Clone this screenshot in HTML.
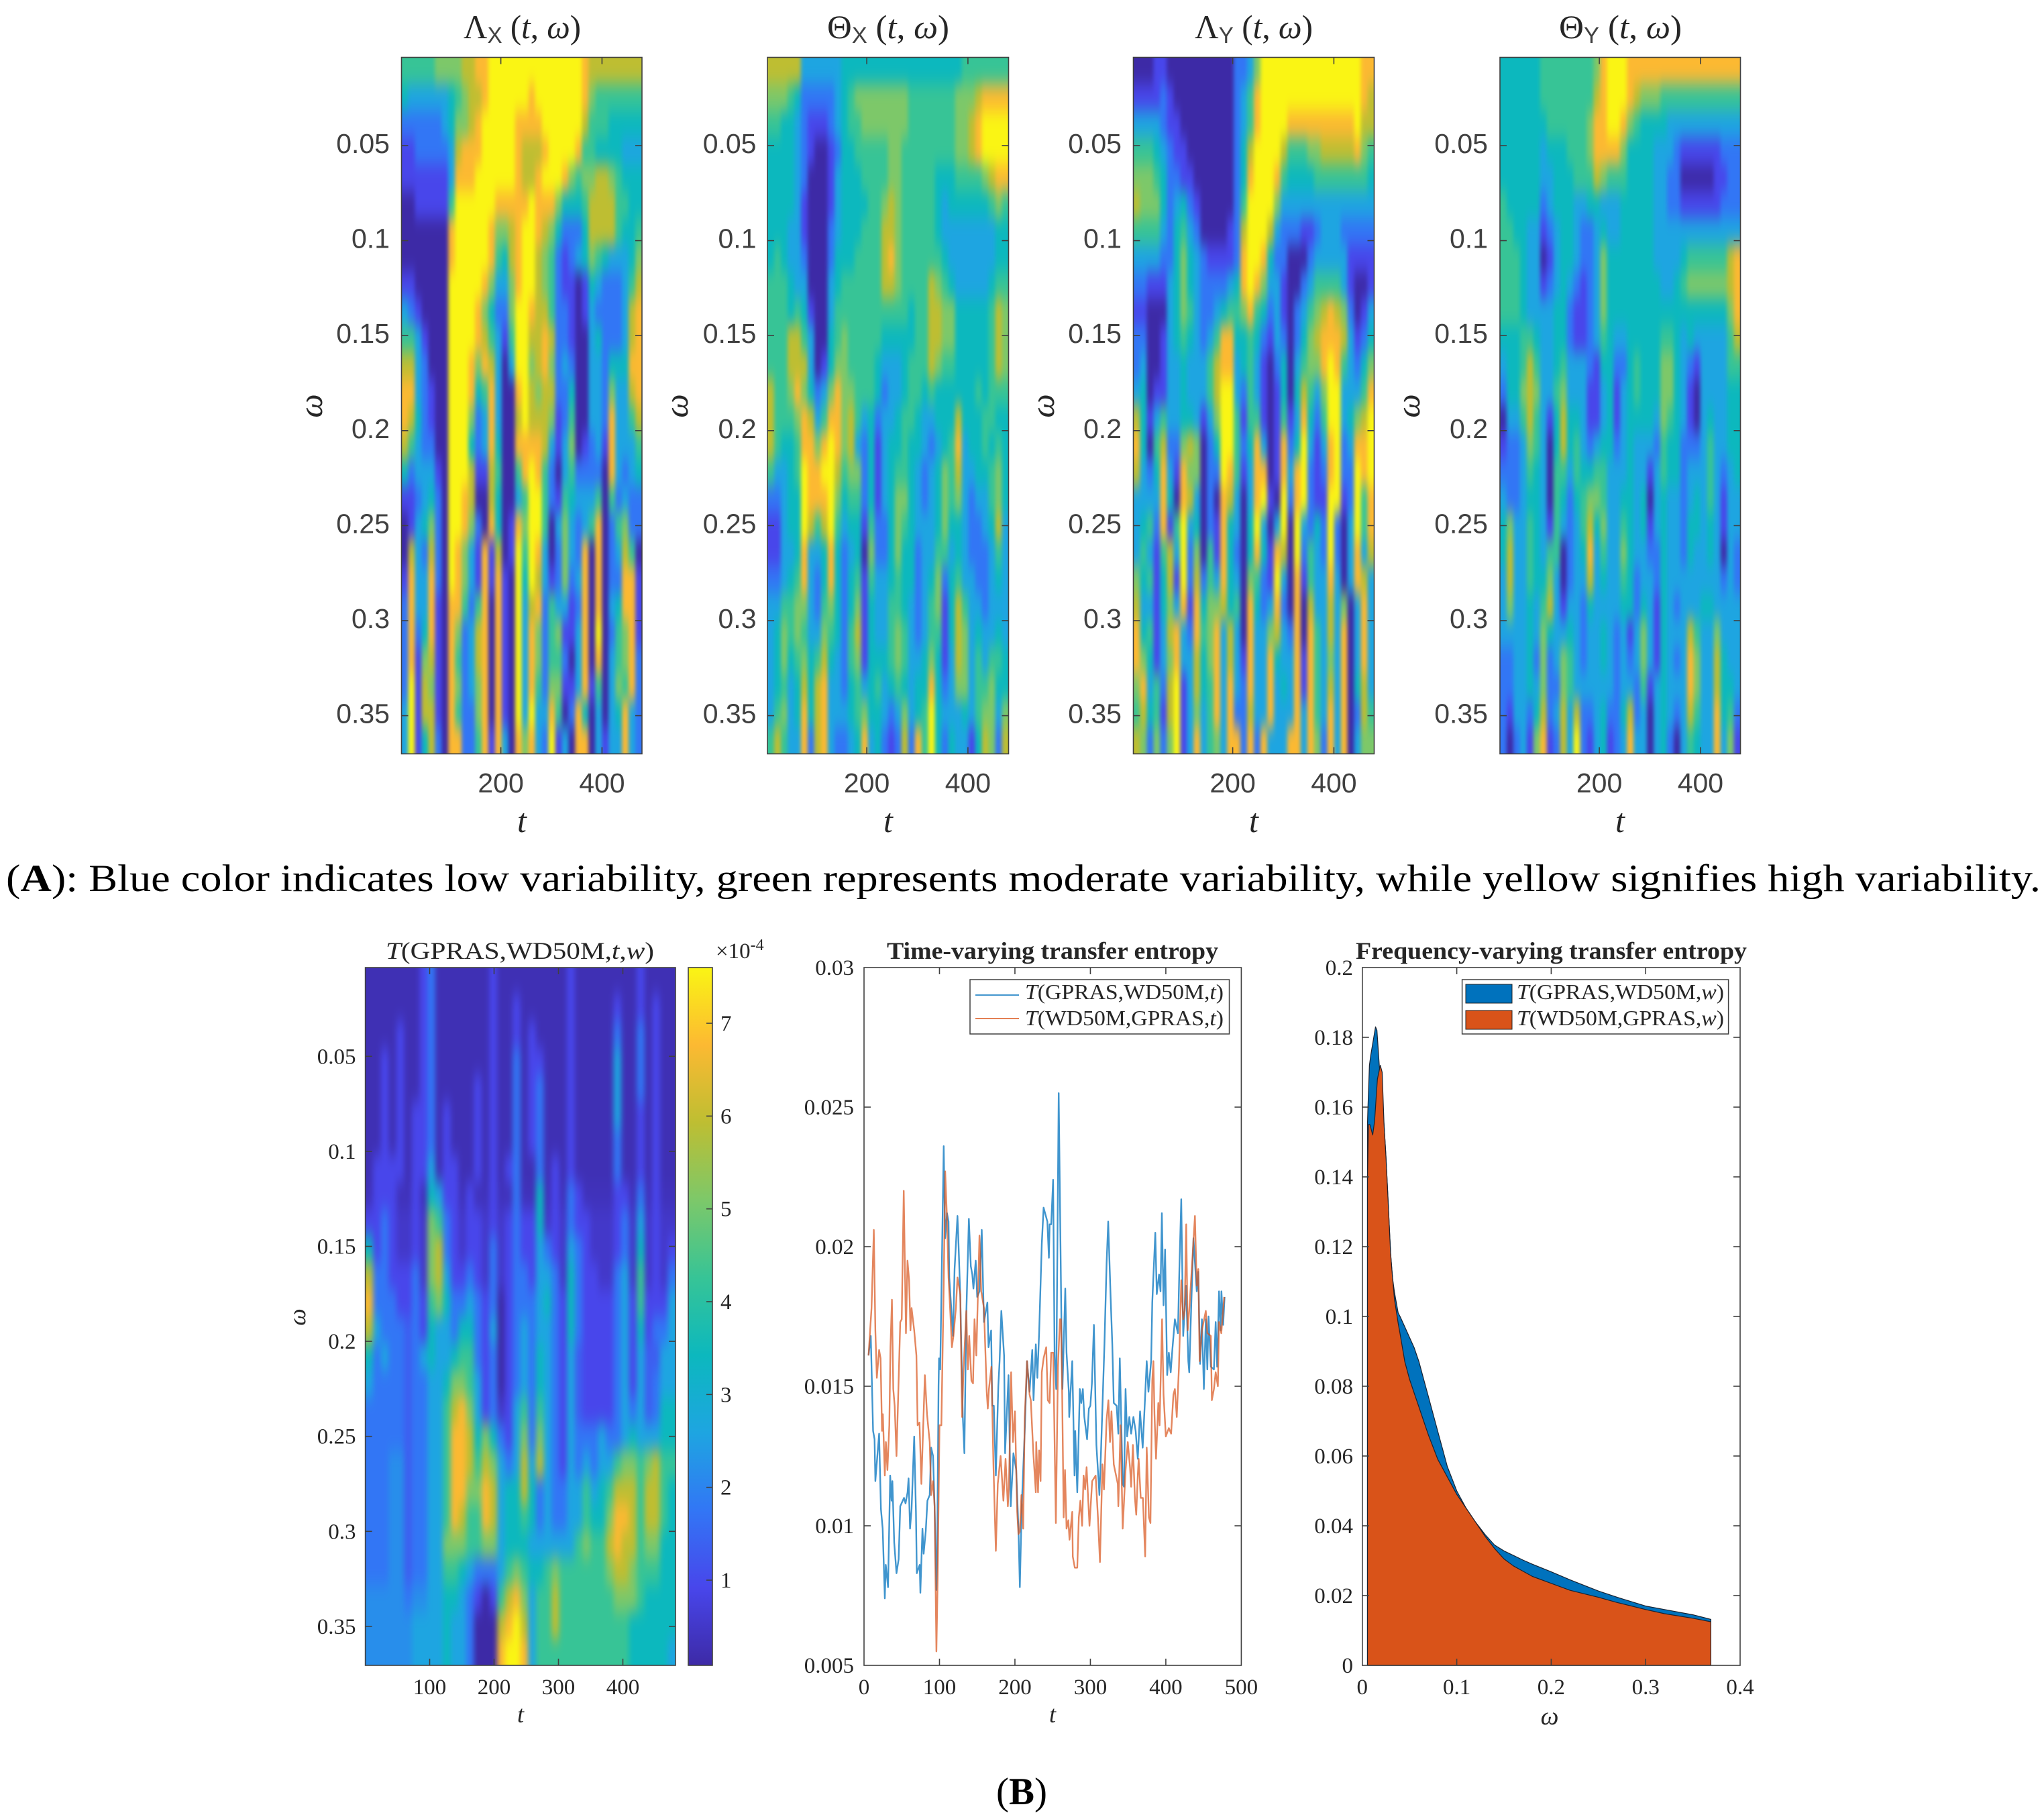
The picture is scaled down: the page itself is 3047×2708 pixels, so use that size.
<!DOCTYPE html>
<html lang="en">
<head>
<meta charset="utf-8">
<title>Transfer entropy time-frequency figure</title>
<style>
html,body{margin:0;padding:0;background:#fff;}
svg{display:block;}
.sans{font-family:"Liberation Sans",sans-serif;fill:#404040;}
.serif{font-family:"Liberation Serif",serif;fill:#262626;}
.cap{font-family:"Liberation Serif",serif;fill:#000;}
</style>
</head>
<body>
<svg id="figure" xmlns="http://www.w3.org/2000/svg" width="3047" height="2708" viewBox="0 0 3047 2708">
<defs>
<filter id="smoothUpper" filterUnits="userSpaceOnUse" x="0" y="0" width="3047" height="2708" color-interpolation-filters="sRGB"><feGaussianBlur stdDeviation="3 13"/></filter>
<filter id="smoothLower" filterUnits="userSpaceOnUse" x="0" y="0" width="3047" height="2708" color-interpolation-filters="sRGB"><feGaussianBlur stdDeviation="4 13"/></filter>
<linearGradient id="parulaBar" x1="0" y1="1" x2="0" y2="0">
<stop offset="0" stop-color="#3d2aa6"/><stop offset="0.111" stop-color="#4846eb"/><stop offset="0.222" stop-color="#3276f5"/><stop offset="0.333" stop-color="#1ea5e1"/><stop offset="0.444" stop-color="#0cb8be"/><stop offset="0.556" stop-color="#37c496"/><stop offset="0.667" stop-color="#7dc869"/><stop offset="0.778" stop-color="#bebe32"/><stop offset="0.889" stop-color="#fcb932"/><stop offset="1" stop-color="#faf514"/>
</linearGradient>
</defs>

<text class="serif" x="691" y="57" font-size="50" textLength="175" lengthAdjust="spacingAndGlyphs">Λ<tspan class="sans" font-size="34" dy="7">X</tspan><tspan dy="-7"> (</tspan><tspan font-style="italic">t</tspan>, <tspan font-style="italic">ω</tspan>)</text>
<text class="serif" x="1233" y="57" font-size="50" textLength="182" lengthAdjust="spacingAndGlyphs">Θ<tspan class="sans" font-size="34" dy="7">X</tspan><tspan dy="-7"> (</tspan><tspan font-style="italic">t</tspan>, <tspan font-style="italic">ω</tspan>)</text>
<text class="serif" x="1781" y="57" font-size="50" textLength="176" lengthAdjust="spacingAndGlyphs">Λ<tspan class="sans" font-size="34" dy="7">Y</tspan><tspan dy="-7"> (</tspan><tspan font-style="italic">t</tspan>, <tspan font-style="italic">ω</tspan>)</text>
<text class="serif" x="2324" y="57" font-size="50" textLength="183" lengthAdjust="spacingAndGlyphs">Θ<tspan class="sans" font-size="34" dy="7">Y</tspan><tspan dy="-7"> (</tspan><tspan font-style="italic">t</tspan>, <tspan font-style="italic">ω</tspan>)</text>

<text class="cap" x="9" y="1328" font-size="57" textLength="3033" lengthAdjust="spacingAndGlyphs">(<tspan font-weight="bold">A</tspan>): Blue color indicates low variability, green represents moderate variability, while yellow signifies high variability.</text>
<text class="cap" x="1485" y="2689" font-size="57">(<tspan font-weight="bold">B</tspan>)</text>

<text class="serif" x="575" y="1429" font-size="36" textLength="400" lengthAdjust="spacingAndGlyphs"><tspan font-style="italic">T</tspan>(GPRAS,WD50M,<tspan font-style="italic">t</tspan>,<tspan font-style="italic">w</tspan>)</text>
<text class="serif" x="1322" y="1429" font-size="36" font-weight="bold" fill="#000" textLength="494" lengthAdjust="spacingAndGlyphs">Time-varying transfer entropy</text>
<text class="serif" x="2021" y="1429" font-size="36" font-weight="bold" fill="#000" textLength="583" lengthAdjust="spacingAndGlyphs">Frequency-varying transfer entropy</text>

<g id="layer"></g>

<g>
<rect x="1446" y="1460" width="386.5" height="81" fill="#fff" stroke="#404040" stroke-width="1.5"/>
<line x1="1454" y1="1483" x2="1519" y2="1483" stroke="#0072bd" stroke-width="1.8" stroke-opacity="0.85"/>
<line x1="1454" y1="1518" x2="1519" y2="1518" stroke="#d95319" stroke-width="1.8" stroke-opacity="0.85"/>
<text class="serif" x="1528" y="1489" font-size="32" textLength="296" lengthAdjust="spacingAndGlyphs"><tspan font-style="italic">T</tspan>(GPRAS,WD50M,<tspan font-style="italic">t</tspan>)</text>
<text class="serif" x="1528" y="1528" font-size="32" textLength="296" lengthAdjust="spacingAndGlyphs"><tspan font-style="italic">T</tspan>(WD50M,GPRAS,<tspan font-style="italic">t</tspan>)</text>
</g>
<g>
<rect x="2179.6" y="1460" width="397" height="81" fill="#fff" stroke="#404040" stroke-width="1.5"/>
<rect x="2185" y="1467" width="69" height="28" fill="#0072bd" stroke="#222" stroke-width="1"/>
<rect x="2185" y="1506" width="69" height="28" fill="#d95319" stroke="#222" stroke-width="1"/>
<text class="serif" x="2261" y="1489" font-size="32" textLength="309" lengthAdjust="spacingAndGlyphs"><tspan font-style="italic">T</tspan>(GPRAS,WD50M,<tspan font-style="italic">w</tspan>)</text>
<text class="serif" x="2261" y="1528" font-size="32" textLength="309" lengthAdjust="spacingAndGlyphs"><tspan font-style="italic">T</tspan>(WD50M,GPRAS,<tspan font-style="italic">w</tspan>)</text>
</g>
</svg>

<script>
const omegaTicks = [0.05, 0.1, 0.15, 0.2, 0.25, 0.3, 0.35];
const upperTimeTicks = [200, 400];
const lowerTimeTicks = [100, 200, 300, 400];
const colorbarTicks = [1, 2, 3, 4, 5, 6, 7];
const lineTimeTicks = [0, 100, 200, 300, 400, 500];
const lineValueTicks = [0.005, 0.01, 0.015, 0.02, 0.025, 0.03];
const freqOmegaTicks = [0, 0.1, 0.2, 0.3, 0.4];
const freqValueTicks = [0, 0.02, 0.04, 0.06, 0.08, 0.1, 0.12, 0.14, 0.16, 0.18, 0.2];
const parulaLevels = [[61,42,166],[72,70,235],[50,118,245],[30,165,225],[12,184,190],[55,196,150],[125,200,105],[190,190,50],[252,185,50],[250,245,20]];

const lambdaXRows = [
[5,5,5,5,5,6,6,6,6,7,7,8,8,9,9,9,9,9,9,9,9,9,9,9,9,9,9,8,7,7,7,7,7,7,7,7],
[4,3,3,3,3,3,3,4,5,6,7,7,8,9,9,9,9,9,9,8,9,9,9,9,9,9,9,8,6,5,5,5,5,5,5,5],
[2,2,2,2,2,2,3,4,6,6,7,8,9,9,9,9,9,8,8,8,8,9,9,9,9,9,9,7,5,5,5,4,4,4,4,4],
[1,1,2,2,2,2,2,3,7,8,8,8,9,9,9,9,9,8,7,7,7,8,9,9,9,9,8,5,5,4,4,4,4,3,3,3],
[1,1,1,1,1,1,1,3,8,8,8,9,9,9,9,9,9,8,7,7,8,9,9,9,8,6,5,6,6,7,7,6,5,4,4,4],
[0,0,1,1,1,1,1,5,9,9,9,9,9,9,8,8,8,8,8,9,8,8,8,6,4,4,4,5,7,7,7,7,5,5,4,4],
[0,0,0,0,0,0,0,8,9,9,9,9,9,8,6,6,7,8,9,9,8,7,6,4,2,2,2,4,7,7,7,7,5,4,4,5],
[0,0,0,0,0,0,0,8,9,9,9,9,9,8,5,4,7,8,9,9,7,6,5,2,1,2,3,4,6,5,4,3,3,3,4,6],
[1,1,0,0,0,0,0,9,9,9,9,9,8,6,3,3,6,8,9,9,7,6,5,2,1,1,0,1,4,3,2,2,2,3,5,7],
[3,2,1,0,0,0,0,9,9,9,9,8,6,4,2,2,6,9,9,8,7,7,5,2,2,1,0,1,3,2,2,2,2,3,7,8],
[5,5,3,1,0,0,0,9,9,9,9,8,7,5,3,1,5,9,9,7,7,8,7,2,2,1,0,0,3,4,2,2,2,3,7,8],
[7,7,3,2,0,0,0,9,9,9,8,6,8,7,3,0,3,9,9,6,7,8,6,2,3,2,0,0,3,3,2,4,4,4,8,8],
[8,8,3,2,1,0,0,9,9,9,8,4,5,8,3,0,0,8,9,7,6,7,7,2,2,4,0,0,3,3,2,6,3,3,7,8],
[8,7,4,2,1,0,0,9,9,9,6,2,3,8,3,0,0,7,9,7,7,7,6,1,2,5,0,0,3,3,2,8,3,3,5,7],
[7,5,3,2,2,0,0,9,9,9,4,2,3,8,4,0,0,8,8,8,8,7,3,1,3,6,0,1,2,3,1,8,3,3,3,5],
[4,2,3,3,3,1,0,9,9,9,7,1,1,7,5,0,0,5,8,9,8,5,2,0,3,5,2,2,2,2,0,8,3,2,3,4],
[1,1,2,3,4,2,0,9,9,8,7,0,0,7,4,0,0,3,5,9,9,5,2,1,5,4,3,3,3,5,0,5,2,3,2,2],
[0,1,3,4,6,2,0,9,9,8,6,2,0,8,4,0,1,8,6,9,9,5,0,3,6,3,2,3,5,8,0,2,5,6,2,2],
[0,7,3,2,7,2,0,9,8,6,3,1,8,1,7,0,1,9,5,9,8,3,0,2,6,3,2,8,0,8,0,2,3,7,5,0],
[1,8,3,3,8,2,0,9,8,6,3,1,8,1,8,1,0,9,4,9,7,3,1,2,6,2,3,8,0,8,0,2,2,8,8,1],
[2,8,3,3,8,1,0,8,8,5,2,5,8,0,8,1,0,9,3,7,8,2,5,3,3,1,2,8,0,8,0,3,4,8,8,1],
[2,8,2,4,8,1,0,8,6,2,3,7,8,0,8,1,0,9,3,8,6,2,5,6,1,1,3,8,0,9,0,2,5,6,8,1],
[2,8,1,6,7,1,0,8,5,2,3,7,8,0,8,1,0,9,3,8,6,2,5,5,2,0,3,8,0,8,0,3,5,6,8,2],
[2,9,1,7,6,1,0,8,6,2,3,6,8,0,8,1,0,9,3,8,5,2,6,6,1,1,3,8,1,5,0,3,6,5,8,2],
[3,9,1,7,7,1,0,8,5,2,2,6,8,0,8,1,0,9,3,9,3,3,8,5,0,2,8,4,0,3,0,3,4,8,3,2],
[3,9,1,4,7,2,0,8,8,2,2,5,8,1,8,3,0,8,6,8,3,2,9,1,3,0,8,8,0,3,1,3,3,8,3,2]
];
const thetaXRows = [
[7,7,7,7,7,3,3,3,3,3,3,4,4,4,4,4,4,4,4,4,4,4,4,4,4,4,4,4,4,5,5,5,5,5,5,5],
[6,6,6,5,4,2,2,2,2,2,3,4,5,6,6,6,6,6,6,6,6,5,5,5,5,5,5,5,6,6,6,7,8,8,8,8],
[5,5,4,4,3,2,1,1,1,2,3,4,5,5,6,6,6,6,6,6,6,5,5,5,5,5,5,5,6,6,7,8,9,9,9,9],
[4,4,4,4,3,2,1,0,0,1,2,4,4,5,5,5,5,5,6,6,5,5,5,5,5,5,5,5,6,6,7,8,9,9,9,9],
[4,4,4,4,3,2,0,0,0,1,3,4,4,4,5,5,5,5,6,6,5,5,5,5,5,4,4,4,5,5,5,5,6,7,8,8],
[4,4,4,4,3,1,0,0,0,1,3,4,4,4,4,5,5,6,7,6,5,5,5,5,5,4,3,4,4,4,4,4,4,5,6,5],
[4,4,4,3,3,1,0,0,0,2,3,4,4,4,5,5,5,7,7,6,5,5,5,5,5,4,3,3,3,3,3,3,3,3,4,4],
[4,5,4,3,3,2,0,0,0,2,4,4,4,5,5,5,5,7,8,6,5,5,5,5,5,5,4,3,3,3,3,3,3,3,4,4],
[5,5,5,4,3,3,0,0,0,3,4,5,5,5,5,5,5,7,7,6,5,5,5,5,7,6,5,4,3,3,3,3,3,4,5,5],
[5,5,5,4,5,4,1,0,0,3,5,5,5,5,5,5,5,5,5,5,5,4,5,5,7,7,6,6,4,4,4,4,4,5,7,6],
[5,5,5,7,7,5,3,0,0,4,5,6,5,5,5,5,5,4,4,4,4,4,5,5,7,7,6,6,4,4,4,4,4,5,7,6],
[5,5,5,7,7,7,3,0,1,4,6,6,5,5,5,5,4,3,3,3,4,5,5,5,7,6,5,5,4,4,4,4,4,5,7,6],
[7,5,5,6,8,6,4,2,3,6,8,6,6,5,5,5,4,2,3,3,4,5,5,4,5,4,4,4,4,4,4,5,4,5,5,5],
[7,5,5,5,6,8,7,3,5,8,8,6,7,5,3,4,2,3,3,4,5,5,4,3,3,4,4,4,7,4,4,4,5,5,4,4],
[7,5,4,4,5,8,8,6,8,9,8,6,7,3,2,4,1,3,4,4,5,4,4,3,2,3,4,5,8,3,4,4,5,4,5,4],
[5,3,3,4,5,9,8,8,9,9,7,5,6,6,2,4,1,3,4,5,5,4,3,2,3,4,6,5,7,3,3,4,4,5,6,4],
[2,2,3,4,4,9,8,8,8,9,6,4,5,5,2,4,1,3,4,6,6,4,3,2,3,4,6,5,6,3,2,3,3,5,6,4],
[1,1,3,4,4,9,7,5,7,9,5,3,4,4,1,5,2,2,4,6,5,4,3,3,3,4,6,4,4,3,2,2,3,4,7,3],
[1,1,3,3,4,8,3,3,4,8,4,2,3,4,0,6,2,2,4,6,4,4,2,3,3,5,5,3,4,3,2,2,2,3,5,3],
[2,2,3,4,5,8,3,2,4,8,4,2,4,5,1,5,3,3,4,5,4,4,2,3,4,6,2,4,5,3,3,2,2,3,4,3],
[3,3,5,5,6,6,3,2,5,6,4,2,4,6,1,4,3,3,5,5,4,3,2,3,5,6,1,4,7,5,3,3,2,3,3,3],
[3,4,6,5,6,5,3,3,6,5,4,2,5,7,1,4,3,3,5,6,5,3,2,3,5,5,1,4,7,6,3,4,3,3,4,3],
[3,4,6,4,5,6,4,5,7,4,3,2,5,6,1,4,4,4,5,6,5,3,3,4,6,4,1,3,7,6,3,5,3,5,5,4],
[3,4,5,3,4,7,4,7,8,3,3,2,4,5,3,4,5,3,4,5,4,3,4,4,8,4,2,3,6,6,3,5,5,6,4,4],
[3,5,6,3,4,8,4,7,8,3,3,3,4,5,6,4,4,3,2,3,6,3,4,5,9,4,3,3,3,4,3,5,6,6,3,6],
[5,7,5,3,3,8,2,7,8,3,2,2,3,4,8,3,4,2,1,2,7,2,8,5,9,4,2,4,3,3,1,4,7,6,2,7]
];
const lambdaYRows = [
[0,0,0,1,1,0,0,0,0,0,0,0,0,0,0,2,2,3,6,9,9,9,9,9,9,9,9,9,9,9,9,9,9,9,8,8],
[1,1,1,1,2,1,0,0,0,0,0,0,0,0,0,2,3,5,8,9,9,9,9,9,9,9,9,9,9,9,9,9,9,9,8,7],
[3,3,3,3,2,1,1,0,0,0,0,0,0,0,0,2,3,5,8,9,9,9,9,8,8,8,8,8,8,8,8,8,8,9,7,7],
[5,5,5,4,3,2,1,1,0,0,0,0,0,0,0,2,4,7,9,9,9,9,7,5,5,5,6,6,7,7,7,7,7,8,6,5],
[6,6,6,5,4,2,2,1,1,0,0,0,0,0,0,2,4,8,9,9,9,8,5,4,4,4,4,5,5,5,5,5,5,5,5,4],
[7,6,6,6,4,2,3,4,2,1,0,0,0,0,0,2,5,9,9,9,9,6,3,3,3,3,3,3,3,3,3,3,3,3,3,3],
[5,5,5,5,3,2,4,5,3,2,0,0,0,0,1,2,7,9,9,9,7,3,2,2,2,1,1,2,3,3,3,2,2,2,2,2],
[3,3,3,3,2,2,4,6,4,3,2,1,1,1,1,2,8,9,9,8,4,2,2,0,0,0,2,3,3,3,3,3,1,1,1,1],
[2,2,1,1,1,3,4,6,4,3,2,2,2,2,3,4,8,9,8,6,3,3,1,0,0,2,3,5,5,5,5,3,1,0,0,1],
[1,1,0,0,0,3,4,6,5,3,2,2,3,4,5,5,6,8,5,4,2,3,1,0,2,3,5,6,7,8,7,6,2,0,1,3],
[2,2,0,0,1,3,4,5,4,3,2,3,5,8,8,4,4,5,4,2,1,3,2,0,2,4,6,7,8,8,8,7,3,1,2,4],
[2,3,0,0,1,3,3,4,3,3,3,5,7,8,8,3,4,5,3,1,0,2,4,0,3,5,6,6,8,9,8,5,3,2,4,6],
[3,4,0,1,1,3,3,4,3,3,3,5,7,9,9,3,2,5,3,1,0,1,4,0,4,7,5,3,6,9,9,3,3,3,5,8],
[7,4,1,3,5,3,3,4,4,3,1,3,6,9,9,5,1,5,5,1,0,1,5,1,3,8,4,2,5,9,9,3,4,6,7,9],
[8,4,0,5,7,2,2,6,7,6,0,2,4,9,9,5,2,4,8,3,0,1,8,2,4,9,3,1,3,8,9,2,3,8,8,9],
[7,3,2,4,8,3,1,8,6,6,0,2,2,9,8,5,1,3,8,8,0,1,8,3,8,9,2,1,2,8,9,2,2,9,8,9],
[3,3,3,3,8,4,0,8,7,3,0,2,0,8,7,3,0,3,8,9,1,0,9,2,8,9,2,1,1,9,9,1,2,9,5,8],
[3,4,5,2,8,1,5,9,3,4,0,2,1,8,4,3,0,4,9,3,0,3,9,0,9,3,2,4,2,9,2,0,3,9,5,8],
[3,5,3,1,5,7,3,9,2,6,0,5,1,8,4,2,0,4,8,4,1,8,7,0,9,2,5,3,2,9,2,0,3,8,3,7],
[6,4,5,1,4,7,1,9,2,7,2,5,3,8,4,3,0,6,5,2,1,9,3,0,8,1,5,3,3,8,3,0,3,8,7,3],
[7,3,3,1,4,6,3,8,1,8,4,6,6,7,4,5,0,8,4,2,3,8,2,0,8,0,7,3,3,7,3,6,0,3,8,3],
[8,4,5,1,3,7,8,3,2,8,5,6,8,3,7,3,0,8,3,3,6,7,3,2,8,0,8,5,3,7,3,8,0,3,8,3],
[8,6,4,1,3,6,8,3,3,7,4,6,8,3,7,3,1,8,3,3,8,4,3,3,8,1,8,5,3,6,3,8,0,3,8,3],
[6,8,3,5,2,7,9,1,3,7,4,5,8,3,8,3,2,8,3,3,8,3,4,3,8,1,8,5,3,7,3,8,0,4,7,3],
[5,7,4,5,1,7,9,1,3,6,3,5,8,3,8,2,2,7,3,3,8,3,3,3,8,3,8,5,3,8,3,8,0,2,7,5],
[7,6,2,6,2,6,9,1,3,8,3,5,6,3,8,8,2,8,2,8,3,3,3,8,8,3,8,6,2,8,3,8,0,3,6,6]
];
const thetaYRows = [
[4,4,4,4,4,4,5,5,5,5,5,5,5,5,6,8,9,9,9,8,8,8,8,8,8,8,8,8,8,8,8,8,8,8,8,8],
[4,4,4,4,4,4,5,5,5,5,5,5,5,5,7,8,9,9,9,8,7,6,6,6,5,5,5,5,5,5,5,5,5,5,5,5],
[4,4,4,4,4,4,4,5,5,5,5,5,5,6,8,8,9,9,8,6,5,4,4,4,4,3,3,3,3,3,3,3,3,3,3,3],
[4,4,4,4,4,4,3,4,4,4,5,5,5,6,8,8,8,8,6,4,4,4,4,3,3,3,2,1,1,1,1,1,1,2,2,2],
[4,4,4,4,4,4,3,3,4,4,4,5,5,5,7,6,5,5,5,4,4,4,4,3,3,2,2,0,0,0,0,0,1,1,2,2],
[5,4,4,4,4,4,2,3,4,4,4,3,3,4,4,3,3,3,4,4,4,4,4,3,3,2,2,1,1,1,1,1,1,2,2,2],
[5,5,4,4,3,3,1,2,3,4,4,3,2,2,3,4,3,3,4,4,4,4,4,3,3,3,3,3,3,3,3,3,3,3,3,3],
[5,5,5,4,3,3,0,1,3,4,4,3,2,2,3,6,4,4,4,4,4,4,4,3,3,3,3,4,5,5,5,5,5,5,7,8],
[5,5,5,4,3,3,1,2,3,4,3,2,1,2,3,6,4,4,4,4,4,4,4,4,3,3,4,5,6,6,6,6,6,6,7,8],
[5,5,5,4,3,3,3,3,4,4,2,1,1,2,3,6,4,4,4,4,4,4,4,4,4,4,4,4,4,4,4,4,4,4,6,8],
[4,4,4,5,5,4,3,3,4,4,2,1,1,2,3,5,4,3,3,4,4,4,4,4,5,5,4,3,4,3,3,3,3,3,5,7],
[3,4,4,5,7,5,3,3,4,5,3,3,3,2,1,4,4,2,2,4,5,4,4,4,6,6,4,3,2,1,3,3,3,3,5,5],
[2,4,4,6,7,6,3,3,5,6,3,3,3,1,1,3,4,1,3,4,5,4,4,4,6,6,4,3,1,0,3,3,3,3,4,4],
[0,3,3,5,7,5,3,1,4,7,4,4,3,1,1,3,4,1,3,4,4,4,4,3,6,5,4,3,1,0,3,4,3,3,4,4],
[1,2,2,3,6,5,3,0,4,7,4,5,3,2,3,4,4,2,3,4,3,3,3,2,5,4,4,2,2,2,3,5,3,3,4,4],
[2,2,2,3,5,4,3,0,5,5,3,5,4,4,5,5,3,3,3,4,3,3,1,3,5,4,4,2,3,3,3,5,3,2,3,4],
[3,2,2,3,4,4,3,0,5,4,2,4,5,6,6,5,3,3,4,4,3,4,0,3,4,3,3,2,3,4,3,5,3,1,3,3],
[4,6,3,3,5,4,3,1,5,3,2,3,5,7,4,6,3,3,5,4,3,4,1,3,4,3,3,2,4,4,3,4,3,1,3,3],
[4,7,3,3,5,4,3,5,5,0,2,3,4,8,3,5,3,3,6,4,3,3,2,2,4,3,3,2,4,3,3,4,3,0,3,2],
[3,7,3,3,5,4,4,6,3,0,2,3,3,7,3,4,3,3,5,4,2,3,3,2,4,3,3,3,3,3,3,3,3,2,3,2],
[3,6,3,3,4,3,5,7,3,1,3,3,2,4,3,3,3,3,4,4,2,4,3,1,4,3,2,3,3,3,4,4,3,3,3,3],
[3,3,3,3,4,3,6,4,3,3,4,3,2,3,3,4,3,2,3,1,3,6,3,1,4,3,3,3,7,5,3,3,6,3,3,3],
[2,2,3,3,4,2,6,2,3,6,5,3,2,3,3,4,3,2,3,2,3,6,3,1,4,3,2,3,8,6,3,3,7,4,3,3],
[2,2,3,3,4,3,6,2,2,6,5,3,3,3,3,3,3,2,3,3,2,5,1,3,4,3,3,3,8,6,3,3,7,4,4,3],
[2,1,3,3,2,4,7,2,3,7,3,7,2,2,3,4,2,2,4,7,2,3,0,3,4,3,2,3,7,5,3,3,8,4,5,2],
[2,0,2,3,1,6,8,1,2,7,3,9,2,1,3,4,1,2,3,8,3,3,0,3,4,2,0,3,5,4,3,3,8,3,6,1]
];
const transferRows = [
[0.2,0.2,0.2,0.2,0.2,0.2,0.2,1,2,0.2,0.2,0.2,0.2,0.2,0.2,0.2,1,0.2,0.2,0.2,0.2,0.2,0.2,0.2,0.2,0.2,1,0.2,0.2,0.2,0.2,0.2,0.2,0.2,0.2,1,0.2,0.2,0.2,0.2],
[0.2,0.2,0.2,0.2,0.2,0.2,0.2,1,2,0.2,0.2,0.2,0.2,0.2,0.2,0.2,1,0.2,0.2,1,0.2,0.2,0.2,0.2,0.2,0.2,1,0.2,0.2,0.2,0.2,0.2,1,0.2,0.2,1,0.2,1,0.2,0.2],
[0.2,0.2,0.2,0.2,1,0.2,0.2,1,2,0.2,0.2,0.2,0.2,0.2,0.2,0.2,1,0.2,0.2,1,0.2,1,0.2,0.2,0.2,0.2,1,0.2,0.2,0.2,0.2,0.2,2,0.2,0.2,2,0.2,1,0.2,0.2],
[0.2,0.2,1,0.2,1,0.2,0.2,1,2,0.2,0.2,0.2,0.2,0.2,0.2,0.2,1,0.2,0.2,2,0.2,1,1,0.2,0.2,0.2,1,0.2,0.2,0.2,0.2,0.2,3,0.2,0.2,2,0.2,1,0.2,0.2],
[0.2,0.2,1,0.2,1,0.2,0.2,1,2,0.2,0.2,0.2,0.2,0.2,1,0.2,1,0.2,0.2,2,0.2,1,2,0.2,0.2,0.2,1,0.2,0.2,0.2,0.2,0.2,3,0.2,0.2,2,0.2,1,0.2,0.2],
[0.2,0.2,1,0.2,1,0.2,1,1,2,0.2,1,0.2,0.2,0.2,1,0.2,1,0.2,0.2,2,0.2,1,2,0.2,0.2,0.2,1,0.2,0.2,0.2,0.2,0.2,3,0.2,0.2,1,0.2,1,0.2,0.2],
[0.2,0.2,1,0.2,1,0.2,1,1,2,0.2,1,0.2,0.2,0.2,1,0.2,1,0.2,0.2,2,0.2,1,2,0.2,0.2,0.2,1,0.2,0.2,0.2,0.2,0.2,2,0.2,0.2,1,0.2,1,0.2,0.2],
[0.2,1,1,1,1,0.2,1,1,3,0.2,1,1,0.2,0.2,1,0.2,1,0.2,1,2,0.2,0.2,2,0.2,1,0.2,1,0.2,0.2,0.2,0.2,0.2,2,0.2,0.2,1,0.2,1,0.2,0.2],
[0.3,1,1,1,0.3,0.3,1,0.3,4,3,1,1,0.3,1,0.3,0.3,1,0.3,0.3,2,0.3,0.3,4,0.3,1,0.3,2,1,0.3,0.3,0.3,0.3,1,1,0.3,2,0.3,1,0.3,0.3],
[1,1,2,1,0.5,0.5,1,0.5,6,5,2,1,0.5,1,1,0.5,1,0.5,1,2,1,1,4,0.5,1,0.5,2,1,1,0.5,0.5,0.5,1,2,0.5,3,0.5,1,0.5,0.5],
[4,1,2,1,0.5,0.5,1,0.5,6,7,2,1,0.5,1,1,0.5,2,0.5,1,2,1,1,3,2,1,0.5,3,2,1,0.5,0.5,0.5,1,2,0.5,4,0.5,1,0.5,1],
[7,2,2,1,1,1,2,0.5,6,7,3,1,1,2,1,0.5,2,0.5,1,2,2,1,3,3,2,0.5,4,2,1,1,0.5,0.5,2,3,0.5,5,0.5,1,0.5,2],
[8,2,2,2,1,1,2,1,5,6,4,2,2,3,2,1,2,0,1,2,2,2,3,4,2,1,4,2,1,1,1,1,2,3,1,5,1,1,1,3],
[7,3,2,2,2,1.5,2,1,4,3,3,2,4,4,2,1,3,0,1,2,3,2,3,3,2,1,4,2,1,1,1,1,2,3,1,4,1,2,2,3],
[4,2,3,2,2,1.5,2,3,4,3,3,4,5,5,2,1,2,0,1,2,3,2,4,3,2,1,3,1.5,1,1,1,1,2,3,1,3,1.5,1.5,3,3],
[3,2,2,2,2,1.5,2,2,3,3,4,6,6,5,3,1,2,0,1,2,3,2,4,3,2,1,3,1.5,1,1,1,1,2,3,1,3,1.5,2,3,3],
[2,2,2,2,2,1.5,2,2,3,3,5,7,8,6,3,1,2,0.5,1,3,5,2,5,3,2,1,3,1.5,1,1,1,1,2,3,2,3,1.5,2,4,4],
[2,2,2,2,2,1.5,2,2,3,3,5,8,8,7,4,6,4,2,1,3,6,2,6,3,2,1,3,2,2,2,3,2,2,3,4,3,3,3,4,4],
[2,2,2,2.5,2.5,1.5,2,2,3,3,5,8,8,7,5,7,6,3,2,3,7,3,7,3,2,1,3,2,3,2,3,3,5,6,6,5,6,7,5,5],
[2,2,2,2.5,2.5,1.5,2,2,3,3,5,8,8,6,6,8,7,3,4,4,7,4,2,3,2,2,3,3,5,3,4,5,7,7,7,5,7,7,5,4],
[2,2,2,2.5,2.5,1.5,2,2,3,3,5,8,7,5,5,8,7,3,4,4,5,4,2,3,2,2,3,3,5,4,4,6,8,8,7,5,7,7,5,4],
[2,2,2,2.5,2.5,1.5,2,2,3,3,6,6,6,5,5,6,6,3,4,4,4,3,3,3,3,3,3,5,6,5,5,7,8,7,7,5,6,6,4,4],
[2,2,2,2.5,2.5,1.5,2,2,3,3,5,5,4,3,2,2,2,3,5,6,5,4,4,5,6,5,5,5,5,5,5,6,7,7,6,5,5,5,4,4],
[2.5,2.5,2.5,2.5,2.5,2,2.5,2.5,3,3,4,4,3,2,1,0,1,5,7,8,6,3,5,5,7,5,5,5,5,5,5,5,6,6,6,5,4,4,4,4],
[2.5,2.5,2.5,2.5,2.5,2.5,3,3,3,3,4,3,3,2,0,0,0,7,8,9,7,3,5,5,7,5,5,5,5,5,5,5,5,5,4,4,4,4,4,4],
[2.5,2.5,2.5,2.5,2.5,2.5,3,3,3,3,4,3,3,2,0,0,0,8,9,9,8,3,5,5,5,5,5,5,5,5,5,5,5,5,4,4,4,4,4,3]
];

const gprasToWindByTime = [[6,16.1],[9,16.8],[12,13.4],[14,13.1],[15,11.6],[20,13.3],[22.4,10.6],[24.7,9.9],[27.6,7.4],[28.8,8.6],[31.8,7.8],[34.7,11.8],[36.5,10.9],[37.6,11.6],[40,9.4],[43,8.3],[45.9,8.8],[48,10.7],[53,11],[55,10.8],[57.7,11.2],[59,11.7],[61,9.9],[63,10.6],[66.5,13.2],[68.8,10.5],[70,8.3],[73.8,8.6],[74.7,7.6],[77.4,9.9],[79,9],[81.8,9.8],[84,10.9],[87,11.1],[89,12.8],[91.5,12.5],[93.5,10.7],[95.9,7.7],[96.8,8.7],[98.8,15],[99.4,16],[101,15.6],[105.6,23.6],[107.6,20.3],[110,21.2],[112,20.9],[113,18.9],[118,16.8],[120,19.2],[123.8,21.1],[125,20.3],[127.6,18.2],[131,13.9],[133,12.6],[135.6,17.6],[139,21],[141.5,19.3],[143.5,19],[145,18.5],[148,19.5],[150,18.2],[153,18.4],[156,20.6],[159,17.3],[163.5,18],[165,16.4],[168.5,17],[170,14.3],[172,14.3],[174.7,11.8],[178,15],[179.7,15.9],[182,17.7],[185.6,16.1],[187,12.6],[191.5,15.4],[194.4,10.7],[198,12.6],[201.7,12],[204.7,9.9],[206.5,7.8],[209,10.7],[213,13.4],[216,15.9],[219.4,14.8],[223,16.3],[224.7,14.5],[227.7,16.5],[229.7,15.3],[232,16.9],[235.6,20.1],[238,21.4],[243,20.9],[245,19.6],[246,20.8],[248,20.8],[250.6,22.4],[252.6,16.1],[254.7,14.9],[258,25.5],[261.6,17.4],[263,14.9],[266.7,18.5],[268.4,16.2],[271.4,14.8],[272,13.9],[276,15.9],[279,11.8],[280,13.4],[282.6,11.2],[286,14.9],[288,14.4],[290,14.9],[292,13.9],[295.6,13.1],[298,14.2],[300,14.3],[302,15.1],[304.7,17.2],[308,12.9],[312,11.1],[314,12.6],[318.6,16.5],[321.5,19.4],[323.6,20.9],[326.8,18.2],[329,16.5],[331,14.4],[334.8,14.3],[337,13.3],[339,16],[342.8,11.5],[344.5,11.4],[346.6,14.9],[348.7,13.2],[351.6,13.9],[354,13.3],[357,13.9],[360,13.4],[362.8,12.4],[365.8,14.1],[369.3,12.8],[372,14.3],[374.6,15.9],[377,14.8],[380.5,15.9],[382,18],[386,20.5],[388,18.3],[391,19],[393,18.4],[394.7,21.2],[397,17.9],[399,19.9],[401.8,15.4],[404,16.2],[406.5,15.5],[408.6,16.3],[412,17.4],[416,16.9],[418,19.3],[420.4,21.7],[423,16.8],[426.8,18.6],[429.8,15.9],[431,15.5],[433.6,17.8],[436.6,20.3],[441,18.4],[443,19.1],[445.4,15.8],[447.8,17.4],[450.4,14.9],[453,17.4],[455,15.6],[456.6,17.5],[459.6,15.7],[463.7,15.6],[466,17.3],[468,15.7],[470.5,18.4],[472.6,17],[473.7,18.4],[476,17.2],[477.9,18.2]];

const windToGprasByTime = [[6,16.1],[10,17.8],[13,20.6],[15,17],[17,15.3],[20,16.3],[22,16],[23.8,13.4],[25,14],[27.6,11.8],[29,13],[31,12],[33.5,13.6],[35,16.4],[37,18.1],[38.8,14.9],[40.6,14.3],[43,12.5],[46,15.3],[48,17.3],[50,17.4],[52.6,22],[55.6,16.9],[57.6,19.5],[59.7,18.8],[61.5,17],[63,17.8],[66.5,17],[69.4,16.1],[71,13.6],[73.5,13.7],[76,11.5],[78.2,13.4],[80.6,15.4],[83.5,14],[87,13],[89,11.1],[91.5,11.6],[93.5,10.7],[95.9,5.5],[97.6,8.1],[100,13.6],[102.5,13.6],[105.6,18.6],[107.6,22.7],[110,21],[112,18.9],[114.4,17.6],[116.5,16.4],[118.5,16.8],[121.8,17.8],[123.8,18.9],[127.6,18.3],[130,13.9],[131.8,15.5],[135.6,17.7],[137.6,15.6],[139.4,16.8],[142.3,15.2],[144.5,15.1],[146.4,17.4],[148.8,16.1],[153,20.4],[155.3,18.4],[159,17.8],[162.6,14.8],[164,14.2],[165.5,14.9],[168.8,15.7],[171.5,12.2],[174.7,9.1],[177.3,11.5],[181,12.5],[184.7,10.9],[187.6,12.4],[190.6,10.7],[192,11.4],[195,15.5],[197.4,13],[200,14.1],[203,10.5],[204.7,9.7],[206.5,9.8],[208.6,11.1],[211,9.9],[213,13.9],[216,15.9],[219.4,14.7],[221,14.5],[224.4,12.6],[227.7,11.2],[228.2,13],[230.6,11.2],[232,12.7],[234,11.6],[235.6,15.5],[238,16],[241.5,16.4],[243.6,14.5],[246,14.4],[248,16.2],[250.7,16.2],[254.3,10.1],[257,15.7],[259.6,17.4],[261,17.4],[262.5,14.9],[264.6,10.3],[266.4,12],[268.4,9.9],[270.8,10.2],[272.3,9.5],[276,10.5],[276.7,8.9],[279.3,8.5],[282.6,8.5],[284.7,10.3],[286.7,10.9],[289,10],[291,11.8],[293,11.3],[295,12.1],[298.8,10],[302.4,11.6],[307,11.8],[310,10.3],[312.7,8.7],[316,12.2],[318,11.3],[321.5,13.8],[323.9,14.5],[326,13],[328,14.1],[331,12.2],[336.3,11.5],[337,10.7],[340,13.6],[342.8,9.9],[346.6,12],[349.6,13],[352.5,12.1],[354,11.4],[356.3,12.9],[359,11],[360.8,10.4],[362.8,11.8],[364,12.4],[366.7,11],[369.6,11],[372.6,8.9],[374.6,12.8],[377.6,10.3],[379.6,10.1],[382,15.2],[383.5,15.9],[385,14],[387,12.4],[390,14.4],[391.7,13.6],[395,17.4],[397,14.7],[400,13.2],[404,13.5],[407,13.3],[410,14.7],[412,14.9],[414.5,13.9],[417.4,15.7],[420.4,18.8],[423,17.4],[425,17.7],[427,20.8],[429,17],[431,17.7],[435,19.5],[438.6,21.1],[441,18.6],[443,19.2],[444.8,15.9],[447.8,17],[453,17.7],[455,16.9],[459.6,16.8],[461,14.5],[463.7,14.9],[466,15.5],[469,15],[470.5,17.3],[473.5,16.9],[477.3,18.2]];

const gprasToWindByFrequency = [[0.0055,0.155],[0.006,0.16],[0.0075,0.172],[0.009,0.175],[0.0115,0.179],[0.014,0.183],[0.0155,0.182],[0.018,0.172],[0.02,0.165],[0.023,0.155],[0.025,0.146],[0.027,0.135],[0.03,0.118],[0.032,0.111],[0.034,0.107],[0.038,0.101],[0.04,0.1],[0.045,0.097],[0.05,0.094],[0.055,0.091],[0.06,0.087],[0.065,0.082],[0.07,0.077],[0.075,0.072],[0.08,0.067],[0.085,0.062],[0.09,0.057],[0.095,0.0535],[0.1,0.05],[0.11,0.045],[0.12,0.041],[0.13,0.0375],[0.14,0.0345],[0.15,0.0328],[0.16,0.0315],[0.17,0.0302],[0.18,0.029],[0.2,0.0268],[0.22,0.0245],[0.25,0.0213],[0.27,0.0195],[0.3,0.017],[0.32,0.016],[0.35,0.0145],[0.369,0.0132]];
const windToGprasByFrequency = [[0.0055,0.14],[0.0065,0.155],[0.008,0.155],[0.011,0.152],[0.013,0.156],[0.016,0.168],[0.019,0.172],[0.021,0.17],[0.023,0.155],[0.025,0.146],[0.027,0.135],[0.03,0.118],[0.032,0.111],[0.034,0.105],[0.038,0.098],[0.04,0.095],[0.045,0.087],[0.05,0.082],[0.055,0.078],[0.06,0.074],[0.065,0.07],[0.07,0.066],[0.075,0.0625],[0.08,0.059],[0.085,0.0565],[0.09,0.054],[0.095,0.0515],[0.1,0.049],[0.11,0.045],[0.12,0.041],[0.13,0.037],[0.14,0.0335],[0.15,0.0305],[0.16,0.0285],[0.17,0.027],[0.18,0.0255],[0.2,0.0235],[0.22,0.0215],[0.25,0.0195],[0.27,0.018],[0.3,0.016],[0.32,0.0148],[0.35,0.0135],[0.369,0.0125]];

const NS = 'http://www.w3.org/2000/svg';
const layer = document.getElementById('layer');
const AXIS = '#404040';

function make(parent, tag, props, name) {
  const el = document.createElementNS(NS, tag);
  for (const k in props) el.setAttribute(k, props[k]);
  
  
  parent.appendChild(el);
  return el;
}
function label(parent, x, y, str, anchor, cls, size, name, extra) {
  const el = make(parent, 'text', Object.assign({x: x, y: y, 'text-anchor': anchor, class: cls, 'font-size': size}, extra || {}), name);
  el.textContent = str;
  return el;
}
function levelColor(value) {
  const v = Math.max(0, Math.min(9, value));
  const a = Math.floor(v);
  const b = Math.min(9, a + 1);
  const f = v - a;
  const c = parulaLevels[a].map(function (ch, k) { return Math.round(ch + (parulaLevels[b][k] - ch) * f); });
  return 'rgb(' + c.join(',') + ')';
}
function box(parent, b, name) {
  make(parent, 'rect', {x: b.left, y: b.top, width: b.right - b.left, height: b.bottom - b.top, fill: 'none', stroke: AXIS, 'stroke-width': 1.6}, name);
}
function xTicks(parent, b, values, scale, len) {
  values.forEach(function (v) {
    const x = scale(v);
    make(parent, 'line', {x1: x, x2: x, y1: b.bottom, y2: b.bottom - len, stroke: AXIS, 'stroke-width': 1.6}, 'x-tick-bottom');
    make(parent, 'line', {x1: x, x2: x, y1: b.top, y2: b.top + len, stroke: AXIS, 'stroke-width': 1.6}, 'x-tick-top');
  });
}
function yTicks(parent, b, values, scale, len) {
  values.forEach(function (v) {
    const y = scale(v);
    make(parent, 'line', {x1: b.left, x2: b.left + len, y1: y, y2: y, stroke: AXIS, 'stroke-width': 1.6}, 'y-tick-left');
    make(parent, 'line', {x1: b.right, x2: b.right - len, y1: y, y2: y, stroke: AXIS, 'stroke-width': 1.6}, 'y-tick-right');
  });
}
function drawHeatmap(c) {
  const g = make(layer, 'g', {}, c.name);
  const b = c.box;
  const clip = make(g, 'clipPath', {id: c.name + '-clip'}, c.name + '-clip-region');
  make(clip, 'rect', {x: b.left, y: b.top, width: b.right - b.left, height: b.bottom - b.top}, c.name + '-clip-rect');
  const outer = make(g, 'g', {'clip-path': 'url(#' + c.name + '-clip)'}, c.name + '-cells-clip');
  const cells = make(outer, 'g', {filter: c.filter}, c.name + '-cells');
  const rows = c.rows;
  const colX = function (i) { return b.left + i * (b.right - b.left) / rows[0].length; };
  const rowY = function (j) { return b.top + j * (b.bottom - b.top) / rows.length; };
  rows.forEach(function (row, j) {
    row.forEach(function (value, i) {
      const x0 = i === 0 ? colX(0) - 40 : colX(i);
      const x1 = i === row.length - 1 ? colX(i + 1) + 40 : colX(i + 1);
      const y0 = j === 0 ? rowY(0) - 60 : rowY(j);
      const y1 = j === rows.length - 1 ? rowY(j + 1) + 60 : rowY(j + 1);
      make(cells, 'rect', {x: x0, y: y0, width: x1 - x0 + 0.6, height: y1 - y0 + 0.6, fill: levelColor(value)}, 'heatmap-cell');
    });
  });
  box(g, b, c.name + '-frame');
  const tScale = function (t) { return c.tZero + t * c.tUnit; };
  const wScale = function (w) { return c.wZero + w * 2832; };
  xTicks(g, b, c.timeTicks, tScale, 10);
  yTicks(g, b, omegaTicks, wScale, 10);
  c.timeTicks.forEach(function (t) {
    label(g, tScale(t), c.xLabelY, String(t), 'middle', c.cls, c.size, 'x-tick-label');
  });
  omegaTicks.forEach(function (w) {
    label(g, c.yLabelRight, wScale(w) + c.yLabelShift, String(w), 'end', c.cls, c.size, 'y-tick-label');
  });
  label(g, c.xTitleX, c.xTitleY, 't', 'middle', 'serif', c.titleSize, 'x-axis-title', {'font-style': 'italic'});
  label(g, 0, 0, 'ω', 'middle', 'serif', c.titleSize, 'y-axis-title', {'font-style': 'italic', transform: 'translate(' + c.yTitleX + ',' + c.yTitleY + ') rotate(-90)'});
}

const upperBase = {timeTicks: upperTimeTicks, tUnit: 0.754, wZero: 75.4, filter: 'url(#smoothUpper)', xLabelY: 1181, cls: 'sans', size: 41, yLabelShift: 11, xTitleY: 1240, titleSize: 50, yTitleY: 605};
drawHeatmap(Object.assign({}, upperBase, {name: 'lambda-x-heatmap', rows: lambdaXRows, box: {left: 598.5, right: 957, top: 85.5, bottom: 1123.5}, tZero: 595.8, yLabelRight: 581, xTitleX: 778, yTitleX: 480}));
drawHeatmap(Object.assign({}, upperBase, {name: 'theta-x-heatmap', rows: thetaXRows, box: {left: 1144, right: 1503.5, top: 85.5, bottom: 1123.5}, tZero: 1141.3, yLabelRight: 1127.5, xTitleX: 1324, yTitleX: 1025}));
drawHeatmap(Object.assign({}, upperBase, {name: 'lambda-y-heatmap', rows: lambdaYRows, box: {left: 1689.5, right: 2048.5, top: 85.5, bottom: 1123.5}, tZero: 1686.8, yLabelRight: 1672, xTitleX: 1869, yTitleX: 1571}));
drawHeatmap(Object.assign({}, upperBase, {name: 'theta-y-heatmap', rows: thetaYRows, box: {left: 2236, right: 2594.5, top: 85.5, bottom: 1123.5}, tZero: 2233.3, yLabelRight: 2218, xTitleX: 2415, yTitleX: 2116}));
drawHeatmap({name: 'transfer-entropy-heatmap', rows: transferRows, box: {left: 544.6, right: 1007, top: 1442, bottom: 2482}, tZero: 544.5, tUnit: 0.96, wZero: 1432.7, timeTicks: lowerTimeTicks, filter: 'url(#smoothLower)', xLabelY: 2525, cls: 'serif', size: 33, yLabelRight: 530.5, yLabelShift: 11, xTitleX: 776, xTitleY: 2567, titleSize: 36, yTitleX: 455, yTitleY: 1963});

const colorbarGroup = make(layer, 'g', {}, 'colorbar');
const barBox = {left: 1026, right: 1062, top: 1442, bottom: 2482};
make(colorbarGroup, 'rect', {x: barBox.left, y: barBox.top, width: barBox.right - barBox.left, height: barBox.bottom - barBox.top, fill: 'url(#parulaBar)'}, 'colorbar-gradient');
box(colorbarGroup, barBox, 'colorbar-frame');
const barScale = function (v) { return 2355 - (v - 1) * 138.33; };
colorbarTicks.forEach(function (v) {
  make(colorbarGroup, 'line', {x1: barBox.right, x2: barBox.right - 9, y1: barScale(v), y2: barScale(v), stroke: AXIS, 'stroke-width': 1.6}, 'colorbar-tick');
  label(colorbarGroup, 1074, barScale(v) + 11, String(v), 'start', 'serif', 33, 'colorbar-tick-label');
});
const multiplier = label(colorbarGroup, 1067, 1428, '×10', 'start', 'serif', 33, 'colorbar-multiplier');
const exponent = make(multiplier, 'tspan', {dy: -12, 'font-size': 24}, 'colorbar-exponent');
exponent.textContent = '-4';

const lineBox = {left: 1288, right: 1850.4, top: 1442, bottom: 2482};
const lineGroup = make(layer, 'g', {}, 'time-varying-chart');
const lineX = function (t) { return lineBox.left + t / 500 * (lineBox.right - lineBox.left); };
const lineY = function (v) { return lineBox.bottom - (v - 0.005) / 0.025 * (lineBox.bottom - lineBox.top); };
function seriesPath(points, x, y) {
  return points.map(function (p, i) { return (i ? 'L' : 'M') + x(p[0]).toFixed(1) + ' ' + y(p[1]).toFixed(1); }).join('');
}
const milli = function (v) { return lineY(v / 1000); };
make(lineGroup, 'path', {d: seriesPath(gprasToWindByTime, lineX, milli), fill: 'none', stroke: '#0072bd', 'stroke-width': 2.4, 'stroke-opacity': 0.75, 'stroke-linejoin': 'round'}, 'series-gpras-to-wd50m');
make(lineGroup, 'path', {d: seriesPath(windToGprasByTime, lineX, milli), fill: 'none', stroke: '#d95319', 'stroke-width': 2.4, 'stroke-opacity': 0.7, 'stroke-linejoin': 'round'}, 'series-wd50m-to-gpras');
box(lineGroup, lineBox, 'time-varying-frame');
xTicks(lineGroup, lineBox, lineTimeTicks.slice(1, -1), lineX, 10);
yTicks(lineGroup, lineBox, lineValueTicks.slice(1, -1), lineY, 10);
lineTimeTicks.forEach(function (t) {
  label(lineGroup, lineX(t), 2525, String(t), 'middle', 'serif', 33, 'x-tick-label');
});
lineValueTicks.forEach(function (v) {
  label(lineGroup, 1273, lineY(v) + 11, String(v), 'end', 'serif', 33, 'y-tick-label');
});
label(lineGroup, 1569, 2567, 't', 'middle', 'serif', 36, 'x-axis-title', {'font-style': 'italic'});

const areaBox = {left: 2030.8, right: 2594, top: 1442, bottom: 2482};
const areaGroup = make(layer, 'g', {}, 'frequency-varying-chart');
const areaX = function (w) { return areaBox.left + w / 0.4 * (areaBox.right - areaBox.left); };
const areaY = function (v) { return areaBox.bottom - v / 0.2 * (areaBox.bottom - areaBox.top); };
function areaPath(points) {
  const first = points[0], last = points[points.length - 1];
  return seriesPath(points, areaX, areaY) + 'L' + areaX(last[0]).toFixed(1) + ' ' + areaY(0) + 'L' + areaX(first[0]).toFixed(1) + ' ' + areaY(0) + 'Z';
}
make(areaGroup, 'path', {d: areaPath(gprasToWindByFrequency), fill: '#0072bd', stroke: '#1a2230', 'stroke-width': 1.2, 'stroke-linejoin': 'round'}, 'area-gpras-to-wd50m');
make(areaGroup, 'path', {d: areaPath(windToGprasByFrequency), fill: '#d95319', stroke: '#1a2230', 'stroke-width': 1.2, 'stroke-linejoin': 'round'}, 'area-wd50m-to-gpras');
box(areaGroup, areaBox, 'frequency-varying-frame');
xTicks(areaGroup, areaBox, freqOmegaTicks.slice(1, -1), areaX, 10);
yTicks(areaGroup, areaBox, freqValueTicks.slice(1, -1), areaY, 10);
freqOmegaTicks.forEach(function (w) {
  label(areaGroup, areaX(w), 2525, String(w), 'middle', 'serif', 33, 'x-tick-label');
});
freqValueTicks.forEach(function (v) {
  label(areaGroup, 2017, areaY(v) + 11, String(v), 'end', 'serif', 33, 'y-tick-label');
});
label(areaGroup, 2310, 2570, 'ω', 'middle', 'serif', 38, 'x-axis-title', {'font-style': 'italic'});
</script>
</body>
</html>
